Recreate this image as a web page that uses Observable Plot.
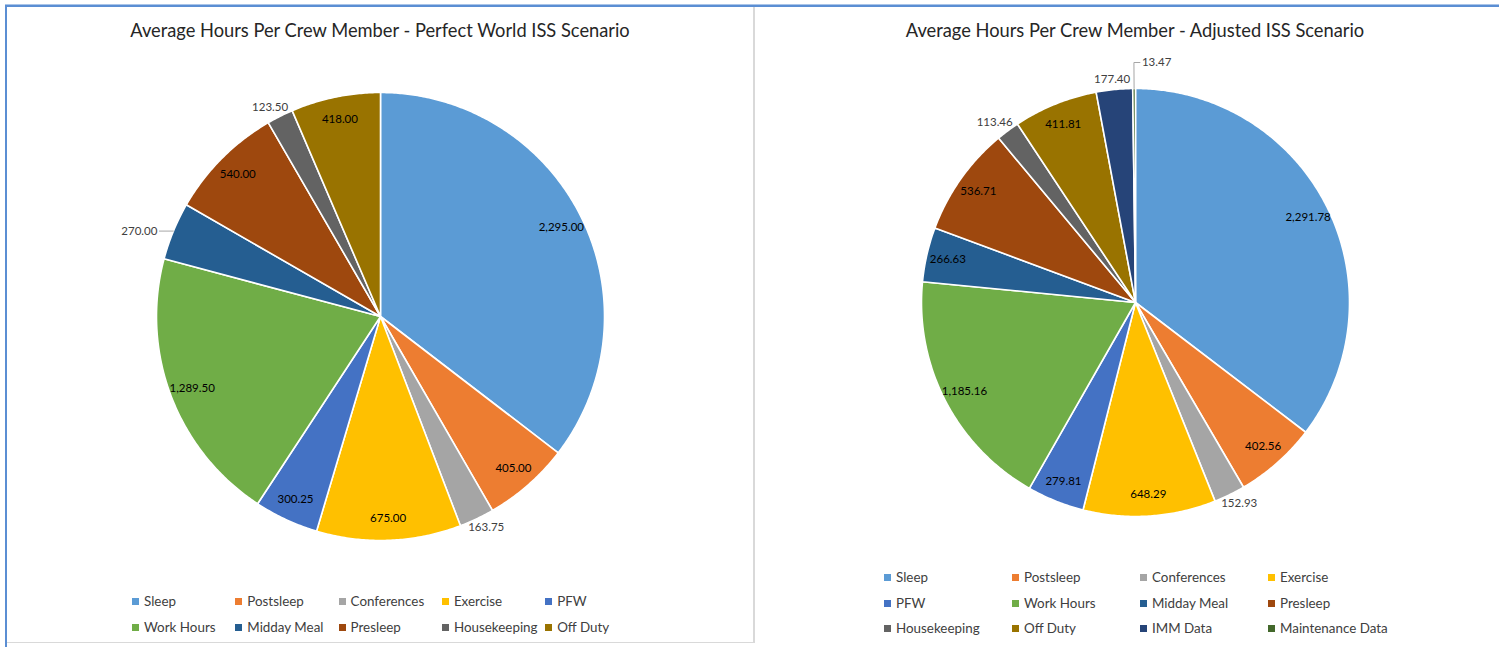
<!DOCTYPE html>
<html><head><meta charset="utf-8">
<script src="https://cdn.jsdelivr.net/npm/d3@7"></script>
<script src="https://cdn.jsdelivr.net/npm/@observablehq/plot@0.6"></script>
<style>
body{margin:0;background:#fff;font-family:Lato,"Open Sans",sans-serif;}
#page{position:relative;width:1499px;height:647px;overflow:hidden;background:#fff;}
.abs{position:absolute;}
.title{position:absolute;font-size:18.3px;color:#262626;white-space:nowrap;transform:translateX(-50%);line-height:24px;}
.leg{position:absolute;font-size:13.4px;color:#404040;white-space:nowrap;line-height:16px;transform:translateY(-50%);}
.leg i{display:inline-block;width:7px;height:7px;margin-right:5px;vertical-align:1px;}
</style></head><body><div id="page"></div>
<script>
// ---- data ----
const allCategories = ["Sleep","Postsleep","Conferences","Exercise","PFW","Work Hours","Midday Meal","Presleep","Housekeeping","Off Duty","IMM Data","Maintenance Data"];
const categoryColors = ["#5B9BD5","#ED7D31","#A5A5A5","#FFC000","#4472C4","#70AD47","#255E91","#9E480E","#636363","#997300","#264478","#43682B"];

const titleLeft = "Average Hours Per Crew Member - Perfect World ISS Scenario";
const categoriesLeft = ["Sleep","Postsleep","Conferences","Exercise","PFW","Work Hours","Midday Meal","Presleep","Housekeeping","Off Duty"];
const valuesLeft = [2295.00, 405.00, 163.75, 675.00, 300.25, 1289.50, 270.00, 540.00, 123.50, 418.00];

const titleRight = "Average Hours Per Crew Member - Adjusted ISS Scenario";
const categoriesRight = ["Sleep","Postsleep","Conferences","Exercise","PFW","Work Hours","Midday Meal","Presleep","Housekeeping","Off Duty","IMM Data","Maintenance Data"];
const valuesRight = [2291.78, 402.56, 152.93, 648.29, 279.81, 1185.16, 266.63, 536.71, 113.46, 411.81, 177.40, 13.47];

// ---- rendering ----
const page = document.getElementById("page");
const fmt = d3.format(",.2f");
const labelSize = 11.5;
const ctx = document.createElement("canvas").getContext("2d");
ctx.font = labelSize + "px Lato";

function box(l,t,w,h,bg){const d=document.createElement("div");d.className="abs";Object.assign(d.style,{left:l+"px",top:t+"px",width:w+"px",height:h+"px",background:bg});page.appendChild(d);}

function makePie(cfg){
  const {cats, vals, left, top, W, H, cx, cy, r, outside, leaders} = cfg;
  const arcs = d3.pie().sort(null).value(d=>d.value)(cats.map((c,i)=>({cat:c,value:vals[i]})));
  const poly = [];
  arcs.forEach(a=>{
    const n = Math.max(2, Math.ceil((a.endAngle-a.startAngle)/(Math.PI/360)));
    poly.push({cat:a.data.cat,x:0,y:0});
    for(let k=0;k<=n;k++){const t=a.startAngle+(a.endAngle-a.startAngle)*k/n;poly.push({cat:a.data.cat,x:Math.sin(t),y:Math.cos(t)});}
    poly.push({cat:a.data.cat,x:0,y:0});
  });
  const labels = [], lines = [];
  const h = 12;
  arcs.forEach(a=>{
    const m = (a.startAngle+a.endAngle)/2, s=Math.sin(m), c=Math.cos(m);
    const text = fmt(a.data.value);
    const w = ctx.measureText(text).width;
    const ld = leaders.find(l=>l.cat===a.data.cat);
    if(ld){
      const e1={x:s,y:c}, k=1+ld.pad/r, e2={x:s*k,y:c*k}, e3={x:e2.x+ld.run/r,y:e2.y};
      lines.push({g:a.data.cat,x:e1.x,y:e1.y},{g:a.data.cat,x:e2.x,y:e2.y},{g:a.data.cat,x:e3.x,y:e3.y});
      const dir=Math.sign(ld.run);
      labels.push({text,x:e3.x+dir*(2+w/2)/r,y:e3.y,fill:"#404040"});
    } else if(outside.includes(a.data.cat)){
      const k=1+4/r;
      labels.push({text,x:s*k+(w/2*s)/r,y:c*k+(h/2*c)/r,fill:"#404040"});
    } else {
      labels.push({text,x:0.9*s,y:0.9*c,fill:"#000"});
    }
  });
  const plot = Plot.plot({
    width:W, height:H, margin:0,
    x:{domain:[-cx/r,(W-cx)/r], range:[0,W], axis:null},
    y:{domain:[-(H-cy)/r, cy/r], range:[H,0], axis:null},
    color:{domain:allCategories, range:categoryColors},
    marks:[
      Plot.line(poly,{x:"x",y:"y",z:"cat",fill:"cat",stroke:"white",strokeWidth:1.6,strokeLinejoin:"round",curve:"linear"}),
      Plot.line(lines,{x:"x",y:"y",z:"g",stroke:"#A6A6A6",strokeWidth:1}),
      Plot.text(labels,{x:"x",y:"y",text:"text",fill:d=>d.fill,fontSize:labelSize,fontFamily:"Lato",textAnchor:"middle",lineAnchor:"middle"})
    ]
  });
  plot.style.position="absolute";plot.style.left=left+"px";plot.style.top=top+"px";plot.style.background="transparent";
  page.appendChild(plot);
}

function title(text,x){const d=document.createElement("div");d.className="title";d.style.left=x+"px";d.style.top=18+"px";d.textContent=text;page.appendChild(d);}
function legend(cats,x0,dx,y0,dy,cols){
  cats.forEach((c,i)=>{
    const d=document.createElement("div");d.className="leg";
    d.style.left=(x0+(i%cols)*dx)+"px";d.style.top=(y0+Math.floor(i/cols)*dy)+"px";
    const sw=document.createElement("i");sw.style.background=categoryColors[allCategories.indexOf(c)];
    d.appendChild(sw);d.appendChild(document.createTextNode(c));page.appendChild(d);
  });
}

// frame
box(5,4,1494,1,"#a9c4e8");
box(5,5,1494,2,"#5B8ED3");
box(5,5,2,642,"#5B8ED3");
box(753,7,2,636,"#D9D9D9");
box(7,642,748,1,"#D9D9D9");

title(titleLeft,380);
title(titleRight,1135);

makePie({cats:categoriesLeft,vals:valuesLeft,left:7,top:50,W:746,H:530,cx:373,cy:266,r:224,
  outside:["Conferences","Housekeeping"],leaders:[{cat:"Midday Meal",pad:0,run:-14}]});
makePie({cats:categoriesRight,vals:valuesRight,left:758,top:40,W:741,H:510,cx:377,cy:262,r:214,
  outside:["Conferences","Housekeeping","IMM Data"],leaders:[{cat:"Maintenance Data",pad:26,run:6}]});

legend(categoriesLeft,132,103.3,601,26,5);
legend(categoriesRight,884,128,577,25.5,4);
</script></body></html>
